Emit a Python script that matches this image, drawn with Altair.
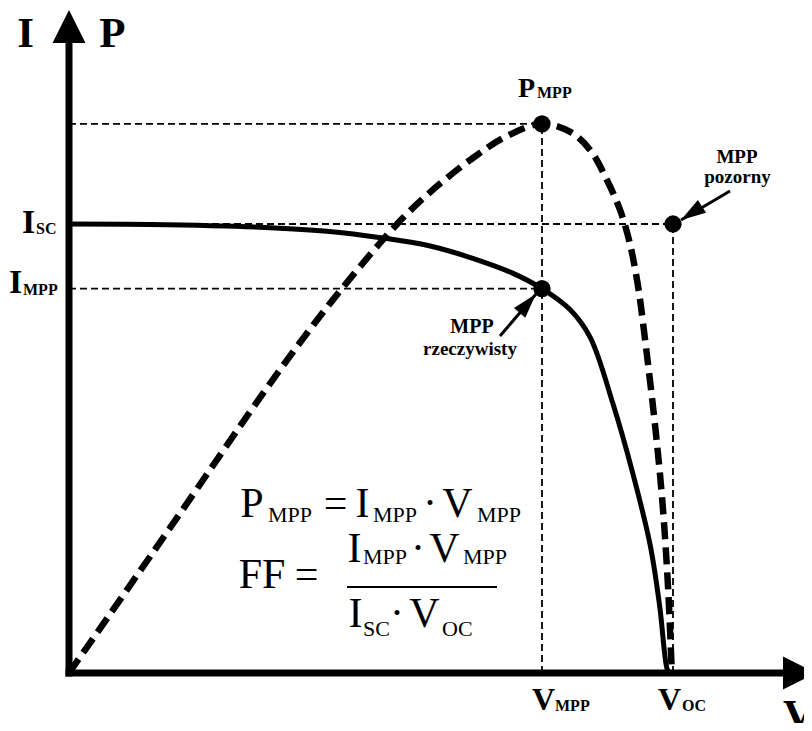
import altair as alt
import pandas as pd

# ---------------- data (schematic units: V_OC = 1, I_SC = 1) ----------------
V_I = [0.0, 0.135, 0.318, 0.429, 0.522, 0.601, 0.684, 0.739, 0.787, 0.834,
       0.867, 0.905, 0.938, 0.967, 0.983, 0.995, 0.999]
I_VALS = [1.0, 0.999, 0.993, 0.984, 0.969, 0.951, 0.918, 0.890, 0.856, 0.809,
          0.748, 0.600, 0.445, 0.285, 0.147, 0.010, 0.0]

V_P = [0.0, 0.168, 0.339, 0.439, 0.546, 0.601, 0.672, 0.729, 0.787, 0.834,
       0.867, 0.895, 0.917, 0.933, 0.947, 0.958, 0.976, 0.988, 0.997, 1.003]
P_VALS = [0.0, 0.323, 0.653, 0.831, 1.000, 1.071, 1.147, 1.196, 1.223, 1.205,
          1.165, 1.098, 1.031, 0.958, 0.860, 0.748, 0.541, 0.370, 0.185, 0.0]

V_MPP, V_OC, V_OC_APP = 0.787, 1.0, 1.005
I_SC, I_MPP, P_MPP = 1.0, 0.856, 1.223

# ---------------- layout (page pixels -> data units) ----------------
W, H = 796, 715
X0, Y0 = 69, 673          # origin on the page
KX, KY = 601, 449         # pixels per unit


def u(xp):
    return (xp - X0) / KX


def w(yp):
    return (Y0 - yp) / KY


xs = alt.Scale(domain=[u(8), u(8 + W)], nice=False, zero=False)
ys = alt.Scale(domain=[w(8 + H), w(8)], nice=False, zero=False)


def X(f):
    return alt.X(f, type="quantitative", scale=xs, axis=None)


def Y(f):
    return alt.Y(f, type="quantitative", scale=ys, axis=None)


FONT = "Liberation Serif"

# guide lines
guides = pd.DataFrame([
    dict(v=0, y=P_MPP, v2=V_MPP, y2=P_MPP),
    dict(v=0, y=I_SC, v2=V_OC_APP, y2=I_SC),
    dict(v=0, y=I_MPP, v2=V_MPP, y2=I_MPP),
    dict(v=V_MPP, y=0, v2=V_MPP, y2=P_MPP),
    dict(v=V_OC_APP, y=0, v2=V_OC_APP, y2=I_SC),
])
guide_layer = alt.Chart(guides).mark_rule(
    color="black", strokeWidth=1.8, strokeDash=[7, 4]
).encode(x=X("v"), y=Y("y"), x2="v2", y2="y2")

i_layer = alt.Chart(pd.DataFrame({"v": V_I, "val": I_VALS})).mark_line(
    color="black", strokeWidth=5, interpolate="catmull-rom"
).encode(x=X("v"), y=Y("val"))

p_layer = alt.Chart(pd.DataFrame({"v": V_P, "val": P_VALS})).mark_line(
    color="black", strokeWidth=6.5, strokeDash=[17, 8], interpolate="catmull-rom"
).encode(x=X("v"), y=Y("val"))

# axes
axes = pd.DataFrame([
    dict(v=u(65.5), y=0, v2=u(784), y2=0),
    dict(v=0, y=w(676.5), v2=0, y2=w(42)),
])
axes_layer = alt.Chart(axes).mark_rule(color="black", strokeWidth=7).encode(
    x=X("v"), y=Y("y"), x2="v2", y2="y2")

heads = pd.DataFrame([
    dict(v=0, y=w(10), ang=0),
    dict(v=u(816), y=0, ang=90),
])
heads_layer = alt.Chart(heads).mark_point(
    shape="M0,0L0.5,1L-0.5,1Z", filled=True, fill="black", stroke="black",
    strokeWidth=0, opacity=1, size=4356
).encode(x=X("v"), y=Y("y"), angle=alt.Angle("ang:Q", scale=None))

# points
dots = pd.DataFrame([
    dict(v=V_MPP, y=I_MPP), dict(v=V_MPP, y=P_MPP), dict(v=V_OC_APP, y=I_SC)
])
dots_layer = alt.Chart(dots).mark_circle(color="black", opacity=1, size=300).encode(
    x=X("v"), y=Y("y"))

# annotation arrows
arrows = pd.DataFrame([
    dict(v=u(730), y=w(191), v2=u(681), y2=w(220), ang=237),
    dict(v=u(500), y=w(336), v2=u(536), y2=w(294), ang=41),
])
arrow_lines = alt.Chart(arrows).mark_rule(color="black", strokeWidth=3).encode(
    x=X("v"), y=Y("y"), x2="v2", y2="y2")
arrow_heads = alt.Chart(arrows).mark_point(
    shape="M0,0L0.3,1L-0.3,1Z", filled=True, fill="black", strokeWidth=0,
    opacity=1, size=2500
).encode(x=X("v2"), y=Y("y2"), angle=alt.Angle("ang:Q", scale=None))

# fraction bar
frac = pd.DataFrame([dict(v=u(347), v2=u(497), y=w(587))])
frac_layer = alt.Chart(frac).mark_rule(color="black", strokeWidth=2).encode(
    x=X("v"), x2="v2", y=Y("y"))


def text_layer(rows, weight, align):
    df = pd.DataFrame([dict(t=t, v=u(xp), y=w(yp), fs=fs) for t, xp, yp, fs in rows])
    return alt.Chart(df).mark_text(
        font=FONT, fontWeight=weight, align=align, baseline="alphabetic", color="black"
    ).encode(x=X("v"), y=Y("y"), text="t:N", size=alt.Size("fs:Q", scale=None))


bold_center = [
    ("I", 25.5, 47, 43), ("P", 112.5, 47, 43),
    ("MPP", 737, 163, 19), ("pozorny", 737.5, 183, 19),
    ("MPP", 472, 333, 20), ("rzeczywisty", 470, 355, 19),
    ("V", 798.5, 729, 43),
]
bold_left = [
    ("I", 22, 233, 34), ("SC", 36, 234, 16),
    ("I", 9, 293, 34), ("MPP", 23, 295, 16),
    ("P", 518, 97, 28), ("MPP", 537, 98, 16),
    ("V", 532, 710, 32), ("MPP", 555, 711, 16),
    ("V", 658, 710, 32), ("OC", 682, 711, 16),
]
reg_center = [
    ("P", 252, 517, 42), ("=", 335.5, 517, 42), ("I", 362.5, 517, 42),
    ("·", 430, 517, 42), ("V", 457.5, 517, 42),
    ("FF", 262, 588, 42), ("=", 306.5, 588, 42),
    ("I", 354.5, 562, 42), ("·", 418, 562, 42), ("V", 444.5, 562, 42),
    ("I", 355.5, 627, 42), ("·", 397, 627, 42), ("V", 424.5, 627, 42),
]
reg_left = [
    ("MPP", 268, 522, 22), ("MPP", 373, 522, 22), ("MPP", 477, 522, 22),
    ("MPP", 363, 564, 22), ("MPP", 463, 564, 22),
    ("SC", 363, 636, 22), ("OC", 442, 636, 22),
]

chart = alt.layer(
    guide_layer, i_layer, p_layer, axes_layer, heads_layer, dots_layer,
    arrow_lines, arrow_heads, frac_layer,
    text_layer(bold_center, "bold", "center"),
    text_layer(bold_left, "bold", "left"),
    text_layer(reg_center, "normal", "center"),
    text_layer(reg_left, "normal", "left"),
).properties(
    width=W, height=H, autosize="none", padding=0, background="white"
).configure_view(stroke=None)

chart.save("out.html", embed_options={"renderer": "svg", "actions": False})
